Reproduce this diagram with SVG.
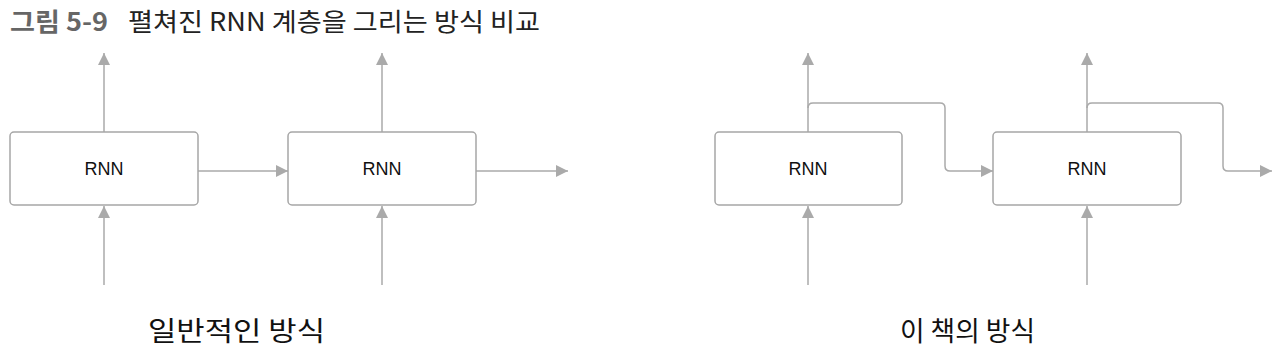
<svg xmlns="http://www.w3.org/2000/svg" width="1280" height="351" viewBox="0 0 1280 351">
<defs>
<marker id="ah" viewBox="0 0 12 12" refX="12" refY="6" markerWidth="12" markerHeight="12" markerUnits="userSpaceOnUse" orient="auto">
<path d="M0,0 L12,6 L0,12 Z" fill="#aaaaaa"/>
</marker>
<style>
.box{fill:#ffffff;stroke:#a6a6a6;stroke-width:1.5}
.lbl{font-family:"Liberation Sans","Noto Sans",sans-serif;font-size:18px;fill:#111;text-anchor:middle;dominant-baseline:central}
.con{fill:none;stroke:#aaaaaa;stroke-width:1.5;marker-end:url(#ah)}
.cap{font-family:"Noto Sans CJK KR",sans-serif;font-size:27px;fill:#111}
</style>
</defs>
<rect width="1280" height="351" fill="#ffffff"/>
<text x="10" y="31" font-family="'Noto Sans CJK KR',sans-serif" font-size="25" font-weight="bold" fill="#666666" textLength="98" lengthAdjust="spacingAndGlyphs">그림 5-9</text>
<text x="128" y="31" font-family="'Noto Sans CJK KR',sans-serif" font-size="25" fill="#222222" textLength="412" lengthAdjust="spacingAndGlyphs">펼쳐진 RNN 계층을 그리는 방식 비교</text>
<g id="connectors">
<path class="con" d="M104,132 V53"/>
<path class="con" d="M104,285 V206"/>
<path class="con" d="M198,171 H288"/>
<path class="con" d="M382,132 V53"/>
<path class="con" d="M382,285 V206"/>
<path class="con" d="M476,171 H568"/>
<path class="con" d="M808,132 V53"/>
<path class="con" d="M808,285 V206"/>
<path class="con" d="M808,108 Q808,103 813,103 H940 Q945,103 945,108 V166 Q945,171 950,171 H993"/>
<path class="con" d="M1087,132 V53"/>
<path class="con" d="M1087,285 V206"/>
<path class="con" d="M1087,108 Q1087,103 1092,103 H1218 Q1223,103 1223,108 V166 Q1223,171 1228,171 H1272"/>
</g>
<g id="rnn1"><rect class="box" x="10" y="132" width="188" height="73" rx="4"/><text class="lbl" x="104" y="169">RNN</text></g>
<g id="rnn2"><rect class="box" x="288" y="132" width="188" height="73" rx="4"/><text class="lbl" x="382" y="169">RNN</text></g>
<g id="rnn3"><rect class="box" x="715" y="132" width="187" height="73" rx="4"/><text class="lbl" x="808" y="169">RNN</text></g>
<g id="rnn4"><rect class="box" x="993" y="132" width="188" height="73" rx="4"/><text class="lbl" x="1087" y="169">RNN</text></g>
<text class="cap" x="148" y="341" textLength="177" lengthAdjust="spacingAndGlyphs">일반적인 방식</text>
<text class="cap" x="900" y="341" textLength="135" lengthAdjust="spacingAndGlyphs">이 책의 방식</text>
</svg>
